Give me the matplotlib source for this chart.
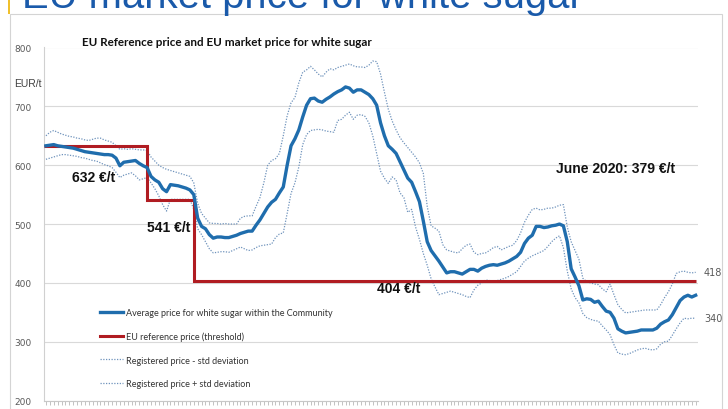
import numpy as np
import matplotlib
matplotlib.use("Agg")
import matplotlib.pyplot as plt
from matplotlib.patches import Rectangle

# monthly data, July 2006 .. June 2020 (EUR/t)
avg_price = [
    633, 634, 635, 633, 632, 631, 630, 629, 627, 625, 623, 622, 621, 620, 619, 618, 618, 617, 612, 599,
    605, 606, 607, 608, 603, 599, 596, 581, 575, 571, 560, 555, 567, 566, 565, 563, 561, 558, 550, 510,
    496, 492, 482, 476, 478, 478, 477, 477, 479, 481, 484, 486, 488, 488, 498, 507, 518, 529, 537, 542,
    553, 563, 600, 633, 645, 660, 682, 702, 713, 714, 709, 707, 712, 716, 721, 725, 728, 733, 731, 724,
    728, 728, 724, 720, 713, 702, 672, 650, 633, 627, 620, 606, 592, 578, 571, 555, 538, 505, 470, 455,
    446, 437, 427, 417, 419, 419, 417, 415, 419, 423, 423, 420, 425, 428, 430, 431, 430, 432, 434, 437,
    441, 445, 452, 467, 476, 481, 496, 496, 494, 495, 497, 498, 500, 497, 470, 424, 410, 395, 371, 373,
    372, 367, 369, 360, 352, 350, 340, 322, 318, 315, 316, 317, 318, 320, 320, 320, 320, 323, 330, 334,
    337, 346, 358, 370, 376, 379, 376, 379,
]
upper_std = [
    650, 656, 659, 656, 653, 651, 649, 648, 646, 645, 643, 642, 644, 646, 646, 643, 641, 639, 633, 627,
    628, 627, 628, 627, 626, 626, 625, 614, 607, 600, 596, 593, 591, 589, 587, 585, 583, 581, 570, 535,
    518, 510, 502, 501, 501, 500, 501, 500, 500, 500, 510, 513, 514, 514, 530, 545, 570, 600, 608, 611,
    620, 650, 684, 706, 715, 740, 758, 762, 768, 762, 755, 750, 758, 764, 762, 766, 768, 770, 772, 769,
    767, 767, 766, 770, 777, 776, 755, 724, 695, 675, 660, 647, 638, 630, 622, 614, 604, 586, 530, 497,
    493, 488, 465, 456, 454, 452, 451, 458, 464, 466, 452, 448, 450, 451, 455, 460, 462, 456, 459, 462,
    464, 472, 485, 503, 515, 525, 527, 524, 525, 527, 527, 529, 532, 533, 495, 470, 455, 440, 408, 402,
    400, 398, 397, 390, 385, 398, 380, 363, 355, 349, 350, 351, 352, 353, 354, 354, 354, 354, 363, 375,
    385, 398, 416, 419, 420, 418, 417, 418,
]
lower_std = [
    610, 612, 614, 616, 618, 618, 617, 616, 615, 613, 612, 610, 608, 607, 604, 601, 599, 596, 588, 579,
    583, 585, 587, 582, 575, 577, 579, 570, 560, 548, 533, 522, 542, 542, 542, 542, 542, 542, 525, 492,
    482, 470, 458, 451, 452, 453, 453, 452, 455, 458, 461, 458, 455, 456, 460, 463, 464, 465, 466, 477,
    483, 485, 518, 552, 570, 597, 635, 652, 659, 660, 661, 660, 658, 657, 656, 676, 678, 685, 690, 678,
    685, 686, 683, 672, 650, 620, 590, 578, 569, 580, 575, 553, 545, 520, 525, 495, 474, 450, 430, 407,
    393, 380, 382, 384, 386, 384, 382, 380, 377, 375, 388, 396, 400, 405, 404, 403, 404, 406, 408, 411,
    415, 419, 428, 437, 442, 446, 449, 452, 455, 462, 470, 476, 480, 460, 420, 390, 375, 366, 348, 341,
    338, 336, 335, 327, 320, 312, 295, 281, 279, 278, 280, 283, 286, 288, 289, 287, 286, 288, 296, 300,
    301, 311, 322, 332, 340, 339, 340, 340,
]

# EU reference price (threshold) and the month index where each level starts
ref_levels = [632, 541, 404]
ref_start = [0, 26, 38]

months = np.arange(len(avg_price))

blue = "#1F6DAD"
red = "#B01C22"
band = "#6F93BC"
grey_txt = "#595959"

fig = plt.figure(figsize=(7.28, 4.10), dpi=100)
ax = fig.add_axes([44 / 728, 8.4 / 410, 654 / 728, 353.1 / 410])

ax.plot(months, avg_price, color=blue, lw=2.4, zorder=4,
        label="Average price for white sugar within the Community")
edges = [months[0] - 0.5] + ref_start[1:] + [months[-1]]
ax.stairs(ref_levels, edges, baseline=None, color=red, lw=2.2, zorder=3,
          label="EU reference price (threshold)")
ax.plot(months, lower_std, color=band, lw=0.9, ls=(0, (1, 1.2)), zorder=2,
        label="Registered price - std deviation")
ax.plot(months, upper_std, color=band, lw=0.9, ls=(0, (1, 1.2)), zorder=2,
        label="Registered price + std deviation")

ax.set_xlim(-0.5, 167.6)
ax.set_ylim(200, 800)
ax.set_yticks([200, 300, 400, 500, 600, 700, 800])
ax.set_xticks(months)
ax.set_xticklabels([])
ax.tick_params(axis="x", length=3, color="#b8b8b8", width=0.6)
ax.tick_params(axis="y", length=0, pad=9, labelsize=6.5, labelcolor=grey_txt)
ax.grid(axis="y", color="#d9d9d9", lw=0.8)
ax.set_axisbelow(True)
for s in ["top", "right"]:
    ax.spines[s].set_visible(False)
ax.spines["left"].set_color("#d0d0d0")
ax.spines["bottom"].set_color("#c8c8c8")

ax.text(-0.045, 0.9, "EUR/t", transform=ax.transAxes, fontsize=7.5,
        color="#404040", ha="left", va="center", family="Liberation Sans")

bold = dict(fontsize=10, fontweight="bold", family="Liberation Sans", color="#111111")
ax.text(6.8, 574, "632 €/t", **bold)
ax.text(26, 488, "541 €/t", **bold)
ax.text(85, 385, "404 €/t", **bold)
ax.text(131, 589, "June 2020: 379 €/t", **bold)

ax.annotate(str(upper_std[-1]), (months[-1], upper_std[-1]), xytext=(6, 0),
            textcoords="offset points", va="center", fontsize=7, color=grey_txt,
            annotation_clip=False)
ax.annotate(str(lower_std[-1]), (months[-1], lower_std[-1]), xytext=(6, 0),
            textcoords="offset points", va="center", fontsize=7, color=grey_txt,
            annotation_clip=False)

leg = ax.legend(loc="upper left", bbox_to_anchor=(0.085, 0.262), frameon=False,
                handlelength=2.6, handletextpad=0.3, labelspacing=1.6,
                borderaxespad=0, borderpad=0, prop={"family": "Lato", "size": 6.5})
for t in leg.get_texts():
    t.set_color("#333333")

fig.text(227 / 728, 1 - 43 / 410, "EU Reference price and EU market price for white sugar",
         ha="center", va="center", fontsize=8.4, fontweight="bold", family="Lato", color="#111111")

# slide header (cut off at the top) and chart frame
fig.text(22 / 728, 1 - 7.5 / 410, "EU market price for white sugar", ha="left", va="baseline",
         fontsize=28.8, family="Liberation Sans", color="#1A5AAA")
fig.add_artist(Rectangle((7.5 / 728, 1 - 15 / 410), 2.5 / 728, 15 / 410,
                         transform=fig.transFigure, color="#F0C02C", lw=0))
fig.add_artist(Rectangle((10 / 728, -0.05), 712 / 728, 1.05 - 15 / 410,
                         transform=fig.transFigure, fill=False, ec="#d4d4d4", lw=0.8))

fig.savefig("out.png", dpi=100)
